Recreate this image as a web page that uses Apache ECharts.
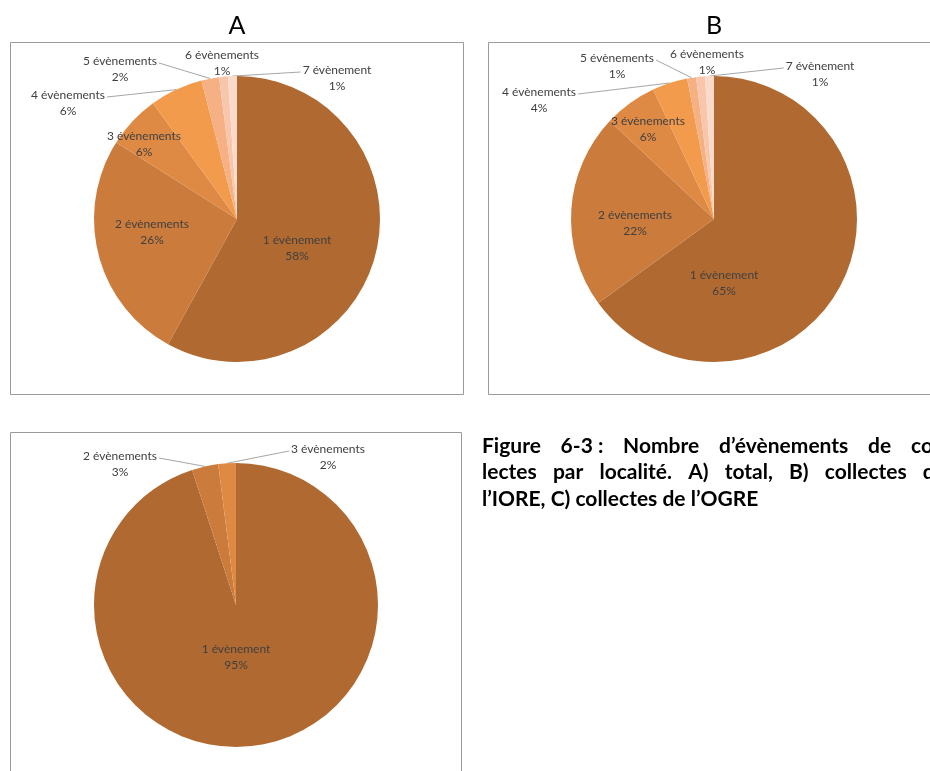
<!DOCTYPE html>
<html>
<head>
<meta charset="utf-8">
<script src="https://cdn.jsdelivr.net/npm/echarts@6/dist/echarts.min.js"></script>
<style>
html, body { margin: 0; padding: 0; background: #fff; overflow: hidden; }
#main { width: 930px; height: 771px; }
</style>
</head>
<body>
<div id="main"></div>
<script>
// valeurs (pourcentages)
var namesAB = ['1 évènement', '2 évènements', '3 évènements', '4 évènements', '5 évènements', '6 évènements', '7 évènement'];
var valuesA = [58, 26, 6, 6, 2, 1, 1]; // A) total
var valuesB = [65, 22, 6, 4, 1, 1, 1]; // B) collectes de l'IORE
var namesC = ['1 évènement', '2 évènements', '3 évènements'];
var valuesC = [95, 3, 2]; // C) collectes de l'OGRE
var panelTitles = ['A', 'B'];
var captionLines = [
    ['Figure', '6-3 :', 'Nombre', 'd’évènements', 'de', 'col-'],
    ['lectes', 'par', 'localité.', 'A)', 'total,', 'B)', 'collectes', 'de'],
    ['l’IORE, C) collectes de l’OGRE']
];

// mise en page
var colors = ['#B06A31', '#CB7B3C', '#DE8A45', '#F29B4D', '#F5B184', '#F8C7AB', '#FADACB'];
var centers = [[237, 219], [714, 219], [236, 605]];
var radii = [143, 143, 142];
var insideCount = [3, 3, 1]; // étiquettes dans les secteurs
// position des étiquettes par rapport au centre du camembert
var labelOffsets = [
    [[60, 29], [-85, 13], [-93, -75], [-169, -116], [-117, -150], [-15, -156], [100, -141]],
    [[10, 64], [-79, 4], [-66, -90], [-175, -119], [-97, -153], [-7, -157], [106, -145]],
    [[0, 52], [-116, -141], [92, -148]]
];
var captionFont = 'bold 21px Lato';
var captionLeft = 482;
var captionRight = 946; // bord droit du paragraphe justifié (hors image)
var captionY = [446, 472.5, 499];

// point du bord extérieur au milieu du secteur i
function sliceEdge (idx, values, i) {
    var total = values.reduce(function (a, b) { return a + b }, 0)
    var before = 0
    for (var j = 0; j < i; j++) before += values[j]
    var a = (before + values[i] / 2) / total * Math.PI * 2
    return [centers[idx][0] + radii[idx] * Math.sin(a), centers[idx][1] - radii[idx] * Math.cos(a)]
}

function makePie (idx, names, values) {
    return {
        type: 'pie',
        center: centers[idx],
        radius: radii[idx],
        startAngle: 90,
        clockwise: true,
        avoidLabelOverlap: false,
        emphasis: { disabled: true },
        itemStyle: { borderWidth: 0 },
        label: {
            color: '#404040',
            fontFamily: 'Lato',
            fontSize: 12,
            lineHeight: 16,
            align: 'center',
            formatter: function (p) {
                return p.name + '\n' + Math.round(p.percent) + '%'
            }
        },
        labelLine: {
            lineStyle: { color: '#A6A6A6', width: 1 }
        },
        labelLayout: function (p) {
            var off = labelOffsets[idx][p.dataIndex]
            var lx = centers[idx][0] + off[0]
            var ly = centers[idx][1] + off[1]
            var res = { x: lx, y: ly, align: 'center', verticalAlign: 'middle' }
            if (p.dataIndex >= insideCount[idx]) {
                // trait de rappel : du secteur vers le côté de l'étiquette
                var p0 = sliceEdge(idx, values, p.dataIndex)
                var w = p.labelRect.width
                var h = p.labelRect.height
                var ey = ly - h / 2 + 10
                var ex
                if (p0[0] < lx - w / 2) ex = lx - w / 2 - 2
                else if (p0[0] > lx + w / 2) ex = lx + w / 2 + 2
                if (ex === undefined) {
                    res.labelLinePoints = [p0, p0, p0]
                } else {
                    res.labelLinePoints = [p0, [(p0[0] + ex) / 2, (p0[1] + ey) / 2], [ex, ey]]
                }
            }
            return res
        },
        data: values.map(function (v, i) {
            var inside = i < insideCount[idx]
            return {
                name: names[i],
                value: v,
                itemStyle: { color: colors[i] },
                label: { position: inside ? 'inside' : 'outside' },
                labelLine: { show: !inside }
            }
        })
    }
}

var graphics = [
    // cadres
    { type: 'rect', shape: { x: 10.5, y: 42.5, width: 453, height: 352 }, style: { fill: 'none', stroke: '#9a9a9a', lineWidth: 1 } },
    { type: 'rect', shape: { x: 488.5, y: 42.5, width: 470, height: 352 }, style: { fill: 'none', stroke: '#9a9a9a', lineWidth: 1 } },
    { type: 'rect', shape: { x: 10.5, y: 432.5, width: 451, height: 400 }, style: { fill: 'none', stroke: '#9a9a9a', lineWidth: 1 } }
];
panelTitles.forEach(function (t, i) {
    graphics.push({
        type: 'text', x: centers[i][0], y: 26,
        style: { text: t, font: '25px Lato', fill: '#000', textAlign: 'center', textVerticalAlign: 'middle', align: 'center', verticalAlign: 'middle' }
    })
});

// légende de la figure, texte justifié
var ctx = document.createElement('canvas').getContext('2d');
ctx.font = captionFont;
captionLines.forEach(function (words, li) {
    var xs = [captionLeft]
    if (words.length > 1) {
        var widths = words.map(function (w) { return ctx.measureText(w).width })
        var sum = widths.reduce(function (a, b) { return a + b }, 0)
        var gap = (captionRight - captionLeft - sum) / (words.length - 1)
        for (var k = 1; k < words.length; k++) xs.push(xs[k - 1] + widths[k - 1] + gap)
    }
    words.forEach(function (w, wi) {
        graphics.push({
            type: 'text', x: xs[wi], y: captionY[li],
            style: { text: w, font: captionFont, fill: '#000', textAlign: 'left', textVerticalAlign: 'middle', align: 'left', verticalAlign: 'middle' }
        })
    })
});

var myChart = echarts.init(document.getElementById('main'));
myChart.setOption({
    backgroundColor: '#fff',
    animation: false,
    graphic: graphics,
    series: [
        makePie(0, namesAB, valuesA),
        makePie(1, namesAB, valuesB),
        makePie(2, namesC, valuesC)
    ]
});
</script>
</body>
</html>
